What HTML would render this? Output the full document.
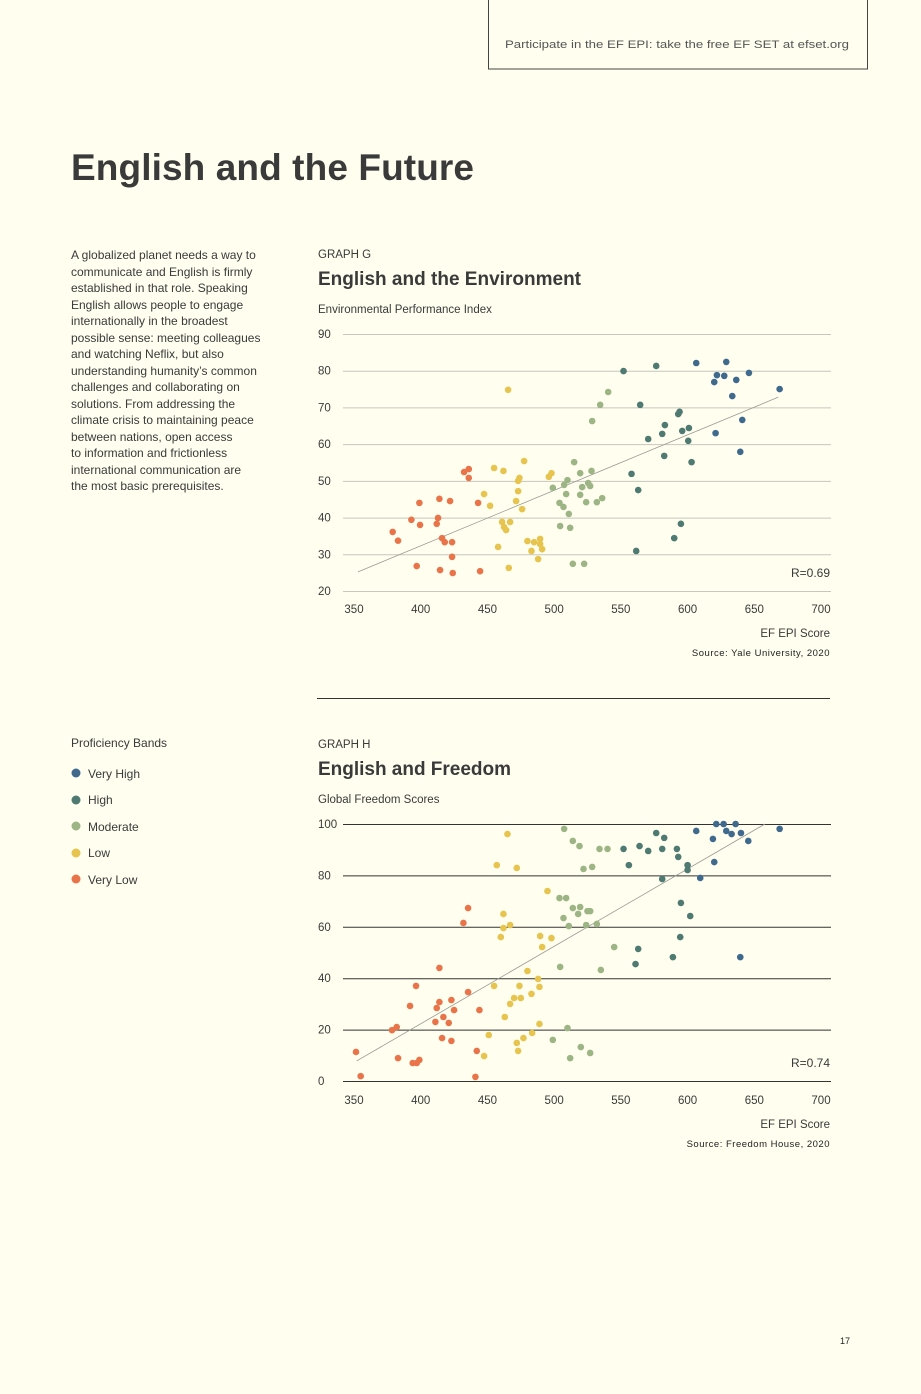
<!DOCTYPE html>
<html><head><meta charset="utf-8"><style>
body{margin:0;background:#fffeef;}
svg{display:block;font-family:"Liberation Sans",sans-serif;}
</style></head><body>
<svg id="page" width="921" height="1394" viewBox="0 0 921 1394">
<rect width="921" height="1394" fill="#fffeef"/>
<g>
<rect x="488.5" y="-2" width="379" height="71" fill="none" stroke="#444" stroke-width="1"/>
<text x="505" y="48" font-size="11" fill="#555" textLength="344" lengthAdjust="spacingAndGlyphs">Participate in the EF EPI: take the free EF SET at efset.org</text>
</g>
<text x="71" y="180" font-size="37" font-weight="bold" fill="#3a3a3a" textLength="403">English and the Future</text>
<g font-size="12" fill="#3a3a3a">
<text x="71" y="259">A globalized planet needs a way to</text>
<text x="71" y="276">communicate and English is firmly</text>
<text x="71" y="292">established in that role. Speaking</text>
<text x="71" y="309">English allows people to engage</text>
<text x="71" y="325">internationally in the broadest</text>
<text x="71" y="342">possible sense: meeting colleagues</text>
<text x="71" y="358">and watching Neflix, but also</text>
<text x="71" y="375">understanding humanity’s common</text>
<text x="71" y="391">challenges and collaborating on</text>
<text x="71" y="408">solutions. From addressing the</text>
<text x="71" y="424">climate crisis to maintaining peace</text>
<text x="71" y="441">between nations, open access</text>
<text x="71" y="457">to information and frictionless</text>
<text x="71" y="474">international communication are</text>
<text x="71" y="490">the most basic prerequisites.</text>
</g>
<g font-size="12" fill="#3a3a3a">
<text x="71" y="747">Proficiency Bands</text>
<g><circle cx="76" cy="773" r="4.5" fill="#3f6a8e"/><text x="88" y="778">Very High</text></g>
<g><circle cx="76" cy="800" r="4.5" fill="#4e7a72"/><text x="88" y="804">High</text></g>
<g><circle cx="76" cy="826" r="4.5" fill="#9db585"/><text x="88" y="831">Moderate</text></g>
<g><circle cx="76" cy="853" r="4.5" fill="#e6c44e"/><text x="88" y="857">Low</text></g>
<g><circle cx="76" cy="879" r="4.5" fill="#e9744a"/><text x="88" y="884">Very Low</text></g>
</g>
<g fill="#3a3a3a">
<text x="318" y="258" font-size="11.5">GRAPH G</text>
<text x="318" y="285" font-size="19" font-weight="bold" textLength="263">English and the Environment</text>
<text x="318" y="313" font-size="11.5">Environmental Performance Index</text>
</g>
<g fill="#3a3a3a">
<text x="318" y="748" font-size="11.5">GRAPH H</text>
<text x="318" y="775" font-size="19" font-weight="bold" textLength="193">English and Freedom</text>
<text x="318" y="803" font-size="11.5">Global Freedom Scores</text>
</g>
<line x1="317" y1="698.5" x2="830" y2="698.5" stroke="#333" stroke-width="1"/>
<g id="chartG"></g>
<g id="chartH"></g>
<text x="840" y="1344" font-size="9" fill="#222">17</text>
</svg>
<script>
// Graph G data: [EF EPI score, EPI value]
const gVeryLow=[[379,36.1],[383,33.7],[393,39.4],[399.5,38],[399,44],[397,26.8],[414,45.1],[422,44.5],[413,39.9],[412,38.3],[416,34.4],[418,33.3],[423.5,33.3],[423.5,29.3],[414.5,25.7],[424,24.9],[432.5,52.4],[436,53.2],[436,50.8],[443,44],[444.5,25.4]];
const gLow=[[465.5,74.8],[455,53.5],[462,52.7],[477.5,55.4],[474,50.8],[473,50],[473,47.2],[447.5,46.4],[452,43.2],[471.5,44.5],[476,42.3],[461,38.8],[467,38.8],[462.5,37.4],[464,36.6],[458,32],[480,33.6],[485,33.3],[489.5,34.2],[489.5,32.8],[491,31.4],[483,30.9],[488,28.7],[466,26.3],[496,51.1],[498,52.1]];
const gModerate=[[515,55.1],[519.5,52.1],[528,52.7],[499,48.1],[507.5,48.9],[510,50.2],[509,46.4],[519.5,46.2],[521,48.3],[525.5,49.4],[527,48.6],[504,44],[507,42.9],[511,41],[524,44.2],[532,44.2],[536,45.3],[504.5,37.7],[512,37.2],[514,27.4],[522.5,27.4],[528.5,66.3],[534.5,70.7],[540.5,74.2]];
const gHigh=[[552,79.9],[576.5,81.3],[564.5,70.7],[594,68.8],[593,68.2],[583,65.2],[596,63.6],[601,64.4],[581,62.8],[570.5,61.4],[600.5,60.9],[582.5,56.8],[603,55.1],[558,51.9],[563,47.5],[595,38.3],[590,34.4],[561.5,30.9]];
const gVeryHigh=[[606.5,82.1],[629,82.4],[622,78.8],[627.5,78.6],[620,76.9],[636.5,77.5],[646,79.4],[633.5,73.1],[669,75],[641,66.6],[621,63],[639.5,57.9]];
const gTrend=[[353,25.2],[668,72.8]];
const gYTicks=[20,30,40,50,60,70,80,90];
const xTicks=[350,400,450,500,550,600,650,700];
// Graph H data: [EF EPI score, freedom score]
const hVeryLow=[[351.5,11.3],[355,1.9],[378.5,19.8],[382,21],[383,8.9],[394,7],[399,8.2],[397,7],[392,29.2],[396.5,37],[414,44],[414,30.7],[412,28.4],[423,31.5],[425,27.6],[417,24.9],[411,23],[421,22.6],[416,16.7],[423,15.6],[435.5,34.6],[435.5,67.3],[432,61.5],[444,27.6],[442,11.7],[441,1.6]];
const hLow=[[465,96.1],[457,84],[472,82.9],[495,73.9],[462,65],[462,59.5],[467,60.7],[460,56],[489.5,56.4],[498,55.6],[491,52.1],[480,42.8],[488,39.7],[489,36.6],[474,37],[455,37],[483,33.9],[475,32.3],[470,32.3],[467,30],[463,24.9],[489,22.2],[483.5,18.7],[477,16.7],[451,17.9],[472,14.8],[473,11.7],[447.5,9.7]];
const hModerate=[[507.5,98.1],[514,93.4],[519,91.4],[534,90.3],[540,90.3],[522,82.5],[528.5,83.3],[504,71.2],[509,71.2],[514,67.3],[519.5,67.7],[525,66.1],[527,66.1],[518,65],[507,63.4],[511,60.3],[524,60.7],[532,61.1],[545,52.1],[504.5,44.4],[535,43.2],[510,20.6],[499,16],[520,13.2],[527,10.9],[512,8.9]];
const hHigh=[[576.5,96.5],[582.5,94.6],[552,90.3],[564,91.4],[570.5,89.5],[581,90.3],[592,90.3],[593,87.2],[556,84],[600,84],[600,82.1],[581,78.6],[595,69.3],[602,64.2],[594.5,56],[563,51.4],[589,48.2],[561,45.5]];
const hVeryHigh=[[606.5,97.3],[621.5,100],[627,100],[636,100],[629,97.3],[633,96.1],[640,96.5],[645.5,93.4],[669,98.1],[619,94.2],[620,85.2],[609.5,79],[639.5,48.2]];
const hTrend=[[352,7.8],[658,100]];
const hYTicks=[0,20,40,60,80,100];

const NS='http://www.w3.org/2000/svg';
const COLORS={vh:'#3f6a8e',h:'#4e7a72',m:'#9db585',l:'#e6c44e',vl:'#e9744a'};
function mk(tag,attrs,parent){const e=document.createElementNS(NS,tag);for(const k in attrs)e.setAttribute(k,attrs[k]);parent.appendChild(e);return e;}
function drawChart(g,cfg){
  const xS=v=>354+(v-350)*(821-354)/350;
  const yS=v=>cfg.y0+(v-cfg.yMin)*(cfg.y1-cfg.y0)/(cfg.yMax-cfg.yMin);
  cfg.yTicks.forEach(t=>{
    const ln=mk('line',{x1:343,x2:831,y1:yS(t)+0.5,y2:yS(t)+0.5,stroke:cfg.grid,'stroke-width':1},g);
    
    
    const tx=mk('text',{x:318,y:yS(t)+4,'font-size':11.5,fill:'#3a3a3a'},g);
    tx.textContent=t;
    
    
  });
  xTicks.forEach(t=>{
    const tx=mk('text',{x:xS(t),y:cfg.xLabY,'font-size':11.5,fill:'#3a3a3a','text-anchor':'middle'},g);
    tx.textContent=t;
    
    
  });
  const tr=mk('line',{x1:xS(cfg.trend[0][0]),y1:yS(cfg.trend[0][1]),x2:xS(cfg.trend[1][0]),y2:yS(cfg.trend[1][1]),stroke:'#9a9a94','stroke-width':0.8},g);
  
  
  cfg.series.forEach(([pts,col,nm])=>{
    pts.forEach(p=>{
      const c=mk('circle',{cx:xS(p[0]),cy:yS(p[1]),r:3.3,fill:COLORS[col]},g);
      
      
    });
  });
  const r=mk('text',{x:830,y:cfg.rY,'font-size':12,fill:'#3a3a3a','text-anchor':'end'},g);
  r.textContent=cfg.rText;
  
  
  const xt=mk('text',{x:830,y:cfg.xTitleY,'font-size':11.5,fill:'#3a3a3a','text-anchor':'end'},g);
  xt.textContent='EF EPI Score';
  
  
  const src=mk('text',{x:830,y:cfg.xTitleY+19,'font-size':9.5,fill:'#222','text-anchor':'end','letter-spacing':'0.5'},g);
  src.textContent=cfg.source;
  
  
}
drawChart(document.getElementById('chartG'),{y0:591,y1:334,yMin:20,yMax:90,yTicks:gYTicks,grid:'#c6c6bd',xLabY:613,trend:gTrend,
  series:[[gVeryLow,'vl','very-low'],[gLow,'l','low'],[gModerate,'m','moderate'],[gHigh,'h','high'],[gVeryHigh,'vh','very-high']],
  rText:'R=0.69',rY:577,xTitleY:637,source:'Source: Yale University, 2020'});
drawChart(document.getElementById('chartH'),{y0:1081,y1:824,yMin:0,yMax:100,yTicks:hYTicks,grid:'#333',xLabY:1104,trend:hTrend,
  series:[[hVeryLow,'vl','very-low'],[hLow,'l','low'],[hModerate,'m','moderate'],[hHigh,'h','high'],[hVeryHigh,'vh','very-high']],
  rText:'R=0.74',rY:1067,xTitleY:1128,source:'Source: Freedom House, 2020'});
</script>
</body></html>
